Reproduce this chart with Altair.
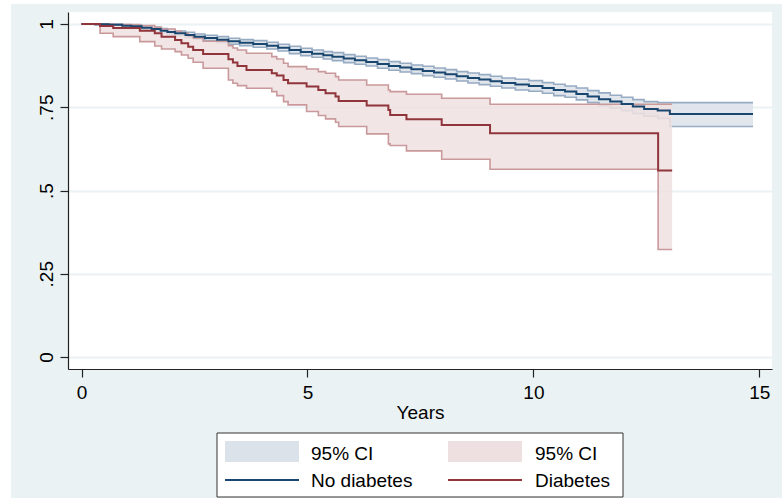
import altair as alt
import pandas as pd

# ---------------- data ----------------
# No diabetes: Kaplan-Meier steps
nd_time = [0.00, 0.30, 0.60, 0.90, 1.10, 1.33, 1.55, 1.75, 1.90, 2.07, 2.30, 2.50, 2.73,
           3.00, 3.25, 3.50, 3.80, 4.10, 4.35, 4.60, 4.85, 5.10, 5.35, 5.55, 5.80, 6.05,
           6.30, 6.55, 6.80, 7.05, 7.30, 7.55, 7.80, 8.05, 8.30, 8.55, 8.80, 9.05, 9.30,
           9.60, 9.90, 10.20, 10.45, 10.70, 10.95, 11.20, 11.45, 11.70, 11.95, 12.20,
           12.45, 12.75, 13.02, 14.86]
nd_surv = [1.000, 0.999, 0.998, 0.995, 0.993, 0.989, 0.985, 0.980, 0.976, 0.972, 0.967,
           0.962, 0.958, 0.953, 0.948, 0.944, 0.940, 0.935, 0.929, 0.922, 0.916, 0.911,
           0.906, 0.902, 0.896, 0.891, 0.886, 0.880, 0.874, 0.869, 0.864, 0.859, 0.854,
           0.849, 0.843, 0.838, 0.833, 0.828, 0.823, 0.818, 0.814, 0.808, 0.802, 0.797,
           0.790, 0.782, 0.774, 0.767, 0.760, 0.752, 0.745, 0.740, 0.730, 0.730]
nd_lo = [1.000, 0.998, 0.996, 0.992, 0.989, 0.984, 0.979, 0.974, 0.969, 0.965, 0.959,
         0.954, 0.950, 0.944, 0.939, 0.935, 0.930, 0.925, 0.919, 0.911, 0.905, 0.900,
         0.895, 0.890, 0.884, 0.879, 0.874, 0.867, 0.861, 0.856, 0.851, 0.845, 0.840,
         0.835, 0.829, 0.823, 0.818, 0.813, 0.808, 0.802, 0.798, 0.792, 0.785, 0.780,
         0.772, 0.764, 0.755, 0.748, 0.740, 0.731, 0.723, 0.716, 0.692, 0.692]
nd_hi = [1.000, 1.000, 1.000, 0.998, 0.997, 0.994, 0.991, 0.986, 0.983, 0.979, 0.975,
         0.970, 0.966, 0.962, 0.957, 0.953, 0.950, 0.945, 0.939, 0.933, 0.927, 0.922,
         0.917, 0.914, 0.908, 0.903, 0.898, 0.893, 0.887, 0.882, 0.877, 0.873, 0.868,
         0.863, 0.857, 0.853, 0.848, 0.843, 0.838, 0.834, 0.830, 0.824, 0.819, 0.814,
         0.808, 0.800, 0.793, 0.786, 0.780, 0.773, 0.767, 0.764, 0.764, 0.764]

# Diabetes: Kaplan-Meier steps
dm_time = [0.00, 0.41, 0.70, 1.29, 1.62, 1.77, 2.07, 2.21, 2.36, 2.47, 2.69, 3.25, 3.35,
           3.45, 3.65, 4.21, 4.32, 4.47, 4.57, 4.98, 5.24, 5.40, 5.62, 5.69, 6.31, 6.79,
           6.83, 7.19, 7.97, 9.04, 12.76, 13.07]
dm_surv = [1.000, 0.994, 0.988, 0.980, 0.972, 0.962, 0.952, 0.942, 0.932, 0.922, 0.910,
           0.894, 0.884, 0.874, 0.862, 0.852, 0.845, 0.832, 0.822, 0.812, 0.802, 0.792,
           0.782, 0.769, 0.755, 0.742, 0.727, 0.714, 0.697, 0.672, 0.560, 0.560]
dm_lo = [1.000, 0.972, 0.962, 0.947, 0.934, 0.925, 0.917, 0.907, 0.897, 0.885, 0.867,
         0.832, 0.822, 0.815, 0.807, 0.797, 0.785, 0.767, 0.757, 0.737, 0.725, 0.715,
         0.705, 0.692, 0.670, 0.640, 0.635, 0.619, 0.594, 0.564, 0.323, 0.323]
dm_hi = [1.000, 1.000, 0.998, 0.995, 0.990, 0.985, 0.978, 0.972, 0.965, 0.958, 0.948,
         0.935, 0.928, 0.922, 0.912, 0.902, 0.895, 0.882, 0.872, 0.865, 0.857, 0.852,
         0.842, 0.832, 0.817, 0.802, 0.797, 0.789, 0.777, 0.759, 0.759, 0.759]

x_ticks = [0, 5, 10, 15]
y_ticks = [0, 0.25, 0.5, 0.75, 1]
y_tick_labels = ["0", ".25", ".5", ".75", "1"]
legend_labels = ["95% CI", "95% CI", "No diabetes", "Diabetes"]

# ---------------- styling ----------------
FONT = "Liberation Sans"
BG = "#eaf2f3"
BLUE = "#1a476f"
RED = "#90353b"
BLUE_FILL = "#dce2ea"
BLUE_EDGE = "#97abc2"
RED_FILL = "#eee0e1"
RED_EDGE = "#c9999c"

nd = pd.DataFrame({"time": nd_time, "surv": nd_surv, "lo": nd_lo, "hi": nd_hi})
dm = pd.DataFrame({"time": dm_time, "surv": dm_surv, "lo": dm_lo, "hi": dm_hi})

xscale = alt.Scale(domain=[-0.30, 15.28], nice=False, zero=False)
yscale = alt.Scale(domain=[-0.036, 1.036], nice=False, zero=False)

label_expr = "[{}][indexof([{}], datum.value)]".format(
    ", ".join(f"'{s}'" for s in y_tick_labels), ", ".join(str(v) for v in y_ticks))

xaxis = alt.Axis(values=x_ticks, format="d", tickSize=8, labelPadding=6, grid=False,
                 titlePadding=1, labelFlush=False)
yaxis = alt.Axis(values=y_ticks, labelExpr=label_expr,
                 tickSize=8, labelPadding=8, grid=True, labelAngle=270,
                 labelAlign="center", labelBaseline="alphabetic")


def X(field):
    return alt.X(f"{field}:Q", scale=xscale, axis=xaxis, title="Years")


def Y(field):
    return alt.Y(f"{field}:Q", scale=yscale, axis=yaxis, title="")


def band(df, fill, edge):
    area = alt.Chart(df).mark_area(interpolate="step-after", color=fill, opacity=0.85).encode(
        x=X("time"), y=Y("lo"), y2="hi:Q")
    lo = alt.Chart(df).mark_line(interpolate="step-after", color=edge, strokeWidth=1.6).encode(
        x=X("time"), y=Y("lo"))
    hi = alt.Chart(df).mark_line(interpolate="step-after", color=edge, strokeWidth=1.6).encode(
        x=X("time"), y=Y("hi"))
    return [area, lo, hi]


def line(df, color):
    return alt.Chart(df).mark_line(interpolate="step-after", color=color, strokeWidth=2).encode(
        x=X("time"), y=Y("surv"))


one = pd.DataFrame({"k": [0]})


def box(x0, x1, y0, y1, fill, stroke=None):
    kw = dict(fill=fill)
    if stroke:
        kw.update(stroke=stroke, strokeWidth=1)
    return alt.Chart(one).mark_rect(**kw).encode(
        x=alt.value(x0), x2=alt.value(x1), y=alt.value(y0), y2=alt.value(y1))


def seg(x0, x1, yy, color):
    return alt.Chart(one).mark_rule(color=color, strokeWidth=2).encode(
        x=alt.value(x0), x2=alt.value(x1), y=alt.value(yy))


def label(xx, yy, txt):
    return alt.Chart(one).mark_text(align="left", baseline="middle", font=FONT, fontSize=19,
                                    color="black").encode(
        x=alt.value(xx), y=alt.value(yy), text=alt.value(txt))


layers = []
# white margins outside the graph region
layers.append(box(-68, -57, -12, 486, "white"))
layers.append(box(-57, 714, -12, -8, "white"))
layers += band(nd, BLUE_FILL, BLUE_EDGE)
layers += band(dm, RED_FILL, RED_EDGE)
layers.append(line(nd, BLUE))
layers.append(line(dm, RED))
# legend
layers.append(box(149, 555, 421, 485, "white", "#333333"))
layers.append(box(157, 231, 429, 450, BLUE_FILL))
layers.append(box(380, 454, 429, 450, RED_FILL))
layers.append(seg(157, 231, 468, BLUE))
layers.append(seg(380, 454, 468, RED))
layers.append(label(243, 442, legend_labels[0]))
layers.append(label(467, 442, legend_labels[1]))
layers.append(label(243, 469, legend_labels[2]))
layers.append(label(467, 469, legend_labels[3]))

chart = alt.layer(*layers).properties(
    width=704, height=357,
    autosize=alt.AutoSizeParams(type="none"),
    padding={"left": 68, "top": 12, "right": 10, "bottom": 129},
    background=BG,
).configure_view(
    fill="white", stroke=None
).configure_axis(
    labelFont=FONT, titleFont=FONT, labelFontSize=19, titleFontSize=19,
    labelColor="black", titleColor="black", titleFontWeight="normal",
    domainColor="#222222", tickColor="#222222", domainWidth=1.2, tickWidth=1.2,
    gridColor=BG, gridWidth=2,
)

chart.save("out.html", embed_options={"renderer": "svg", "actions": False})
